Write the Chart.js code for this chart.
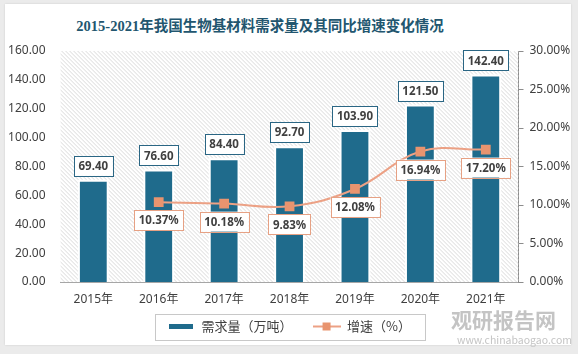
<!DOCTYPE html>
<html lang="zh">
<head>
<meta charset="utf-8">
<script src="https://cdn.jsdelivr.net/npm/chart.js@4"></script>
<style>
  html, body { margin: 0; padding: 0; background: #ebebeb; }
  #wrap { position: relative; width: 578px; height: 354px; overflow: hidden; }
  #card { position: absolute; left: 5px; top: 4px; width: 566px; height: 341px; background: #fff; box-shadow: 0 0 2px rgba(0,0,0,0.12); }
  #title { position: absolute; left: 0; top: 14px; width: 520px; line-height: 20px; text-align: center;
           font: bold 14.5px "Liberation Serif", "Noto Sans CJK SC", serif; color: #22566f; }
  #chart { position: absolute; left: 0; top: 0; }
  .wm { position: absolute; color: #c4c4c4; font-family: "Noto Sans CJK SC", sans-serif; white-space: nowrap; }
</style>
</head>
<body>
<div id="wrap">
  <div id="card"></div>
  <div id="title">2015-2021年我国生物基材料需求量及其同比增速变化情况</div>
  <canvas id="chart" width="578" height="354"></canvas>
  <div class="wm" style="left:451px; top:304px; font-size:21px; font-weight:bold;">观研报告网</div>
  <div class="wm" style="left:457px; top:332px; font-size:10.5px;">www.chinabaogao.com</div>
</div>
<script>
// 数据
const years = ['2015年', '2016年', '2017年', '2018年', '2019年', '2020年', '2021年'];
const demand = [69.40, 76.60, 84.40, 92.70, 103.90, 121.50, 142.40];   // 需求量（万吨）
const growth = [null, 10.37, 10.18, 9.83, 12.08, 16.94, 17.20];        // 增速（%）
const leftAxis = { min: 0, max: 160, step: 20 };
const rightAxis = { min: 0, max: 30, step: 5 };

const barColor = '#1f6b8c';
const lineColor = '#eca185';
const markerColor = '#e8946f';

// 图例小图标
function swatch(w, h, draw) {
    const c = document.createElement('canvas');
    c.width = w; c.height = h;
    draw(c.getContext('2d'));
    return c;
}
const barIcon = swatch(24, 5, g => { g.fillStyle = barColor; g.fillRect(0, 0, 24, 5); });
const lineIcon = swatch(28, 10, g => {
    g.strokeStyle = lineColor; g.lineWidth = 2;
    g.beginPath(); g.moveTo(0, 5); g.lineTo(28, 5); g.stroke();
    g.fillStyle = markerColor; g.fillRect(10, 1, 8, 8);
});

// x轴标签不被裁掉
const xLabelRoom = {
    id: 'xLabelRoom',
    afterLayout(chart) {
        const x = chart.scales.x;
        x.bottom = x.top + 30;
    }
};

// 背景斜纹 + 柱子白边
const hatchPlugin = {
    id: 'hatch',
    beforeDatasetsDraw(chart) {
        const { ctx, chartArea: ca } = chart;
        ctx.save();
        ctx.beginPath();
        ctx.rect(ca.left, ca.top, ca.width, ca.height);
        ctx.clip();
        ctx.strokeStyle = '#dadada';
        ctx.lineWidth = 1;
        ctx.beginPath();
        for (let x = ca.left - ca.height; x < ca.right; x += 4) {
            ctx.moveTo(x, ca.top);
            ctx.lineTo(x + ca.height, ca.bottom);
        }
        ctx.stroke();
        ctx.fillStyle = '#fff';
        chart.getDatasetMeta(1).data.forEach(b => {
            const p = b.getProps(['x', 'y', 'width', 'base'], true);
            ctx.fillRect(p.x - p.width / 2 - 2, p.y - 2, p.width + 4, p.base - p.y + 2);
        });
        ctx.restore();
    }
};

// 数据标签
function labelBox(ctx, text, cx, top, border) {
    ctx.font = 'bold 11.5px "Noto Sans", "DejaVu Sans", sans-serif';
    const w = ctx.measureText(text).width + 9;
    const h = 20;
    ctx.fillStyle = '#fff';
    ctx.fillRect(cx - w / 2, top, w, h);
    ctx.strokeStyle = border;
    ctx.lineWidth = 1;
    ctx.strokeRect(Math.round(cx - w / 2) + 0.5, Math.round(top) + 0.5, Math.round(w), h);
    ctx.fillStyle = '#404040';
    ctx.textAlign = 'center';
    ctx.textBaseline = 'middle';
    ctx.fillText(text, cx, top + h / 2 + 1);
}
const labelPlugin = {
    id: 'labels',
    afterDatasetsDraw(chart) {
        const ctx = chart.ctx;
        ctx.save();
        chart.getDatasetMeta(1).data.forEach((b, i) => {
            labelBox(ctx, demand[i].toFixed(2), b.x, b.y - 26, '#2a6684');
        });
        chart.getDatasetMeta(0).data.forEach((p, i) => {
            if (growth[i] == null) return;
            labelBox(ctx, growth[i].toFixed(2) + '%', p.x, p.y + 8, '#e6a184');
        });
        ctx.restore();
    }
};

// 图例外框
const legendBoxPlugin = {
    id: 'legendBox',
    afterDraw(chart) {
        const hb = chart.legend.legendHitBoxes;
        if (!hb.length) return;
        const left = hb[0].left - 12;
        const right = hb[hb.length - 1].left + hb[hb.length - 1].width + 14;
        const cy = hb[0].top + hb[0].height / 2;
        const ctx = chart.ctx;
        ctx.save();
        ctx.strokeStyle = '#c8c8c8';
        ctx.lineWidth = 1;
        ctx.strokeRect(Math.round(left) + 0.5, Math.round(cy - 13) + 0.5, Math.round(right - left), 26);
        ctx.restore();
    }
};

const tickFont = { family: '"Noto Sans", "Noto Sans CJK SC", sans-serif', size: 12 };

new Chart(document.getElementById('chart'), {
    data: {
        labels: years,
        datasets: [{
            type: 'line',
            label: '增速（%）',
            data: growth,
            yAxisID: 'y1',
            order: 0,
            borderColor: lineColor,
            borderWidth: 2,
            tension: 0.4,
            pointStyle: 'rect',
            pointRadius: 5.5,
            pointBackgroundColor: markerColor,
            pointBorderColor: markerColor
        }, {
            type: 'bar',
            label: '需求量（万吨）',
            data: demand,
            yAxisID: 'y',
            order: 1,
            backgroundColor: barColor,
            barPercentage: 0.41,
            categoryPercentage: 1
        }]
    },
    options: {
        responsive: false,
        animation: false,
        layout: { padding: { top: 51, left: 0, right: 0, bottom: 11 } },
        plugins: {
            tooltip: { enabled: false },
            legend: {
                position: 'bottom',
                labels: {
                    usePointStyle: true,
                    pointStyleWidth: 28,
                    padding: 20,
                    color: '#404040',
                    font: { family: '"Noto Sans CJK SC", sans-serif', size: 13 },
                    generateLabels: () => [
                        { text: '需求量（万吨）', pointStyle: barIcon, fontColor: '#404040', lineWidth: 0, datasetIndex: 1 },
                        { text: '增速（%）', pointStyle: lineIcon, fontColor: '#404040', lineWidth: 0, datasetIndex: 0 }
                    ]
                }
            }
        },
        scales: {
            x: {
                grid: { display: false, drawTicks: false },
                border: { display: true, color: '#a6a6a6' },
                ticks: { color: '#404040', font: tickFont, padding: 10 },
                afterFit: s => { s.height = 18; }
            },
            y: {
                position: 'left',
                min: leftAxis.min,
                max: leftAxis.max,
                grid: { display: false, drawTicks: false },
                border: { display: false },
                ticks: {
                    stepSize: leftAxis.step,
                    padding: 15,
                    color: '#404040',
                    font: tickFont,
                    callback: v => v.toFixed(2)
                },
                afterFit: s => { s.width = 60.6; }
            },
            y1: {
                position: 'right',
                min: rightAxis.min,
                max: rightAxis.max,
                grid: { drawOnChartArea: false, drawTicks: true, tickLength: 5, color: '#8c8c8c' },
                border: { display: true, color: '#8c8c8c' },
                ticks: {
                    stepSize: rightAxis.step,
                    padding: 6,
                    color: '#404040',
                    font: tickFont,
                    callback: v => v.toFixed(2) + '%'
                },
                afterFit: s => { s.width = 59.5; }
            }
        }
    },
    plugins: [xLabelRoom, hatchPlugin, labelPlugin, legendBoxPlugin]
});
</script>
</body>
</html>
